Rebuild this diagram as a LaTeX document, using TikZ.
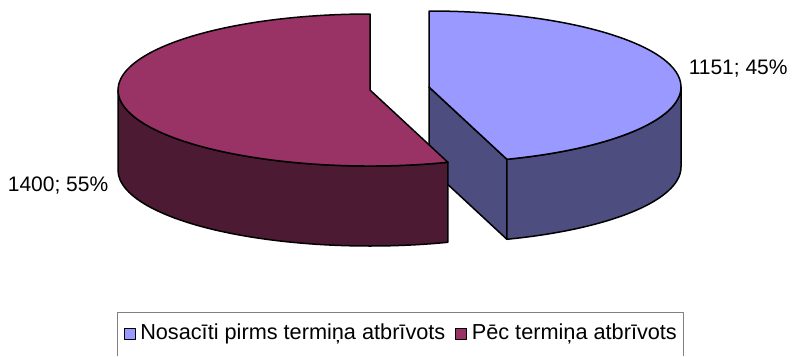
\documentclass[tikz,border=0pt]{standalone}
\usepackage{fontspec}
\setmainfont{Liberation Sans}
\usepackage{tikz}
\usetikzlibrary{positioning}
\definecolor{bluetop}{HTML}{9999FF}
\definecolor{blueside}{HTML}{4D4D80}
\definecolor{redtop}{HTML}{993366}
\definecolor{redside}{HTML}{4D1A33}

\begin{document}
\begin{tikzpicture}[x=1pt, y=-1pt, line width=1.5pt, line join=round,
    label text/.style={font=\fontsize{21}{25}\selectfont, inner sep=0pt},
    legend text/.style={font=\fontsize{21.7}{26}\selectfont, inner sep=0pt},
    legend key/.style={draw=black, line width=1pt, minimum size=11pt, inner sep=0pt}]
\useasboundingbox (0, 0) rectangle (792, 356);
% blue slice
  \begin{scope}[shift={(429, 87)}]
    % draw cut face
    \filldraw[fill=blueside] (0, 0) -- (72:252 and 76) -- ++(0, 80) -- (0, 80) -- cycle;

    % draw outer side
    \filldraw[fill=blueside] (0:252 and 76) arc[start angle=0, end angle=72, x radius=252, y radius=76]
        -- ++(0, 80) arc[start angle=72, end angle=0, x radius=252, y radius=76] -- cycle;

    % draw top face
    \filldraw[fill=bluetop] (0, 0) -- (-90:252 and 76) arc[start angle=-90, end angle=72, x radius=252, y radius=76] -- cycle;
  \end{scope}
% red slice
  \begin{scope}[shift={(370, 90)}]
    % draw outer side
    \filldraw[fill=redside] (72:252 and 76) arc[start angle=72, end angle=180, x radius=252, y radius=76]
        -- ++(0, 80) arc[start angle=180, end angle=72, x radius=252, y radius=76] -- cycle;

    % draw top face
    \filldraw[fill=redtop] (0, 0) -- (72:252 and 76) arc[start angle=72, end angle=270, x radius=252, y radius=76] -- cycle;
  \end{scope}
% data labels
    \node[label text, anchor=west] (bluelabel) at (688, 69) {1151; 45\%};
    \node[label text, anchor=east] (redlabel) at (109, 186) {1400; 55\%};
% legend
    \draw[line width=1pt, draw=gray] (117, 356) -- (117, 312) -- (683, 312) -- (683, 356);
    \node[legend key, fill=bluetop] (bluekey) at (129.5, 333.5) {};
    \node[legend text, right=4pt of bluekey] (bluename) {Nosacīti pirms termiņa atbrīvots};
    \node[legend key, fill=redtop, right=9pt of bluename] (redkey) {};
    \node[legend text, right=4pt of redkey] (redname) {Pēc termiņa atbrīvots};
\end{tikzpicture}
\end{document}
